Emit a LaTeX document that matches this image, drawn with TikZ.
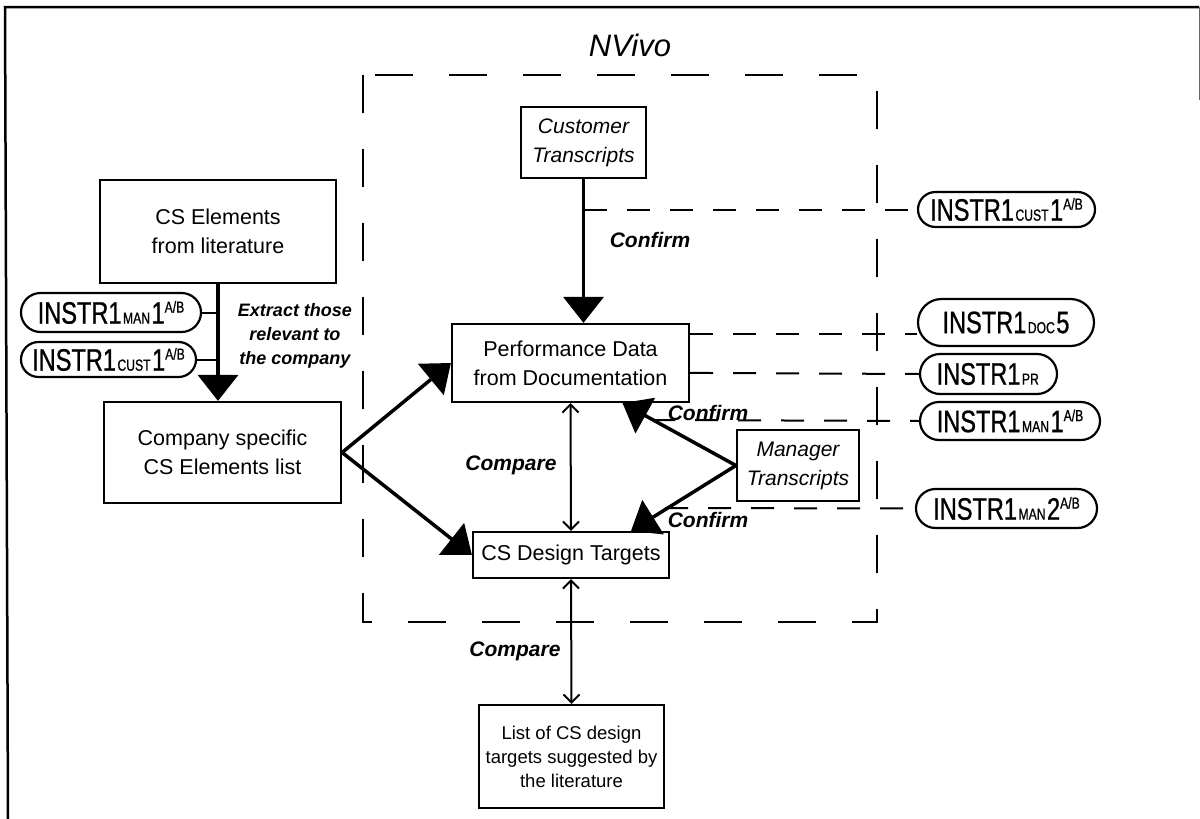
\documentclass[tikz,border=0pt]{standalone}
\usepackage{fontspec}
\setmainfont{Liberation Sans}
\newfontfamily\condfont[FakeStretch=0.76,FakeBold=0.8]{Liberation Sans}
\usetikzlibrary{arrows.meta,shapes.misc,calc}

% instrument tag: INSTR1 with small-caps subscript, digit and optional superscript
\newcommand{\instrlab}[3]{%
  {\condfont\fontsize{31pt}{31pt}\selectfont INSTR1\kern1.5pt{\fontsize{16pt}{16pt}\selectfont #1}\kern1.5pt #2%
  \raisebox{11pt}{\fontsize{16pt}{16pt}\selectfont #3}}}

\tikzset{
  procbox/.style={draw, line width=2.2pt, align=center, inner sep=0pt,
    font=\fontsize{21.5pt}{29pt}\selectfont},
  italbox/.style={procbox, font=\fontsize{21pt}{29pt}\selectfont\itshape},
  tagpill/.style={draw, rounded rectangle, line width=2.2pt, inner sep=0pt},
  actlabel/.style={align=center, inner sep=0pt,
    font=\fontsize{21pt}{26pt}\selectfont\bfseries\itshape},
  bigarrow/.style={line width=3.5pt, -{Triangle[length=26pt,width=40pt]}},
  cmparrow/.style={line width=2pt, {Straight Barb[length=8pt,width=16pt]}-{Straight Barb[length=8pt,width=16pt]}},
  tagline/.style={line width=2pt, dash pattern=on 23pt off 20pt},
  regionline/.style={line width=2.2pt, dash pattern=on 38pt off 36pt},
}

\begin{document}
\begin{tikzpicture}[x=1pt,y=-1pt]
\useasboundingbox (0,0) rectangle (1200,819);

% outer frame
\draw[line width=2.5pt] (8,819) -- (5,7) -- (1199,7);
\draw[line width=1pt, black!60] (1199,7) -- (1199,100);

% NVivo region
\node[font=\fontsize{31pt}{31pt}\selectfont\itshape, inner sep=0pt] (nvivo) at (630,45) {NVivo};
\draw[regionline] (363,75) rectangle (877,622);

% process boxes
\node[italbox, minimum width=125pt, minimum height=71pt] (cust) at (583.5,142.5) {Customer\\Transcripts};
\node[procbox, minimum width=236pt, minimum height=103pt] (lit) at (218,231.5) {CS Elements\\from literature};
\node[procbox, minimum width=237pt, minimum height=101pt] (comp) at (222.5,452.5) {Company specific\\CS Elements list};
\node[procbox, minimum width=237pt, minimum height=78pt] (perf) at (570.5,363) {Performance Data\\from Documentation};
\node[procbox, minimum width=196pt, minimum height=46pt] (csdt) at (571,555) {CS Design Targets};
\node[procbox, minimum width=185pt, minimum height=103pt, font=\fontsize{18.5pt}{24pt}\selectfont] (list) at (571.5,756.5)
  {List of CS design\\targets suggested by\\the literature};
\node[italbox, minimum width=122pt, minimum height=71pt] (mgr) at (798,465.5) {Manager\\Transcripts};

% instrument tags
\node[tagpill, minimum width=180pt, minimum height=39pt] (lman1) at (111,312.5) {\instrlab{MAN}{1}{A/B}};
\node[tagpill, minimum width=175pt, minimum height=35pt] (lcust1) at (108.5,359.5) {\instrlab{CUST}{1}{A/B}};
\node[tagpill, minimum width=177pt, minimum height=35pt] (rcust1) at (1006.5,209.5) {\instrlab{CUST}{1}{A/B}};
\node[tagpill, minimum width=176pt, minimum height=47pt] (doc5) at (1006,322.5) {\instrlab{DOC}{5}{}};
\node[tagpill, minimum width=137pt, minimum height=40pt] (pr) at (988.5,374) {\instrlab{PR}{}{}};
\node[tagpill, minimum width=180pt, minimum height=38pt] (rman1) at (1010,421) {\instrlab{MAN}{1}{A/B}};
\node[tagpill, minimum width=181pt, minimum height=39pt] (rman2) at (1006.5,508.5) {\instrlab{MAN}{2}{A/B}};

% activity labels
\node[actlabel] (conf1) at (650,240) {Confirm};
\node[actlabel, font=\fontsize{18pt}{24pt}\selectfont\bfseries\itshape] (extract) at (295,336)
  {Extract those\\relevant to\\the company};
\node[actlabel] (cmp1) at (511,465) {Compare};
\node[actlabel] (cmp2) at (515,651) {Compare};
\node[actlabel] (conf2) at (708,413) {Confirm};
\node[actlabel] (conf3) at (708,520) {Confirm};

% free ends of tag lines
\coordinate (m1start) at (652,420);
\coordinate (m2start) at (665,508);
\coordinate (docstart) at ($(perf.north east)+(0,11)$);
\coordinate (prstart) at ($(perf.north east)+(0,50)$);

% main flow
\draw[bigarrow] (cust.south) -- (cust.south |- perf.north);
\draw[bigarrow] (lit.south) -- (lit.south |- comp.north);
\draw[bigarrow] (comp.east) -- (perf.west);
\draw[bigarrow] (comp.east) -- (csdt.west);
\draw[bigarrow] (mgr.west) -- ($(perf.south)+(52,0)$);
\draw[bigarrow] (mgr.west) -- ($(csdt.north)+(60,0)$);
\draw[cmparrow] (perf.south) -- (csdt.north);
\draw[cmparrow] (csdt.south) -- (list.north);

% tag connectors
\draw[line width=2pt] (lman1.east) -- (lit.south |- lman1.east);
\draw[line width=2pt] (lcust1.east) -- (lit.south |- lcust1.east);
\draw[tagline] (cust.south |- rcust1.west) -- (rcust1.west);
\draw[tagline] (docstart) -- (doc5.west |- docstart);
\draw[tagline] (prstart) -- (pr.west);
\draw[tagline] (m1start) -- (rman1.west);
\draw[tagline] (m2start) -- (rman2.west);
\end{tikzpicture}
\end{document}
